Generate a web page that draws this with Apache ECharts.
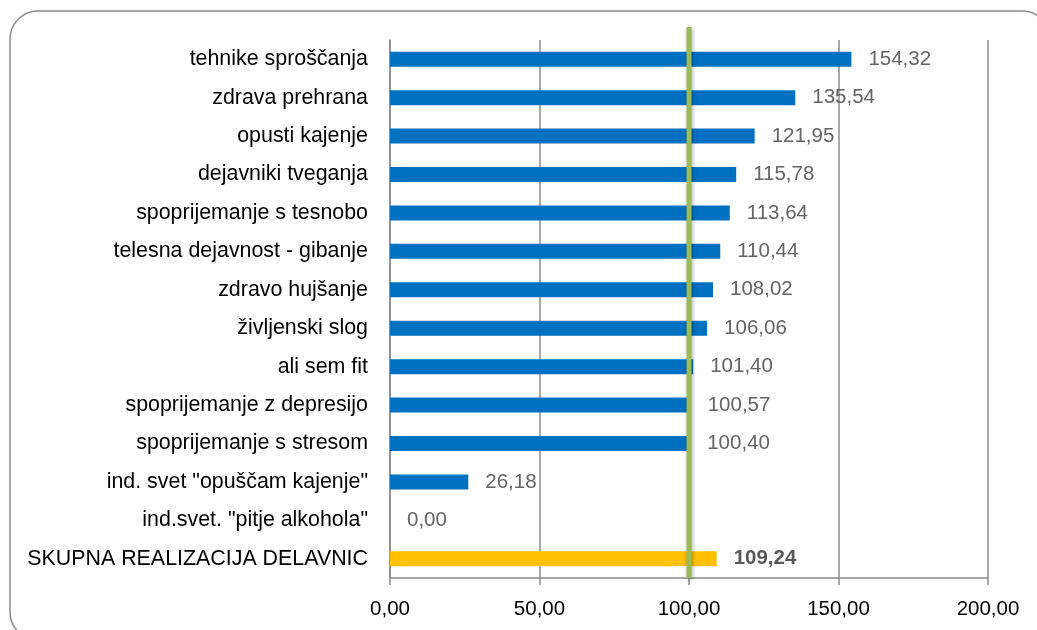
<!DOCTYPE html>
<html>
<head>
<meta charset="utf-8">
<script src="https://cdn.jsdelivr.net/npm/echarts@6/dist/echarts.min.js"></script>
<style>
html,body{margin:0;padding:0;background:#fff;}
#c{width:1037px;height:630px;}
</style>
</head>
<body>
<div id="c"></div>
<script>
const categories = [
  'tehnike sproščanja',
  'zdrava prehrana',
  'opusti kajenje',
  'dejavniki tveganja',
  'spoprijemanje s tesnobo',
  'telesna dejavnost - gibanje',
  'zdravo hujšanje',
  'življenski slog',
  'ali sem fit',
  'spoprijemanje z depresijo',
  'spoprijemanje s stresom',
  'ind. svet "opuščam kajenje"',
  'ind.svet. "pitje alkohola"',
  'SKUPNA REALIZACIJA DELAVNIC'
];
const values = [154.32, 135.54, 121.95, 115.78, 113.64, 110.44, 108.02, 106.06, 101.40, 100.57, 100.40, 26.18, 0.00, 109.24];
const totalIndex = 13;
const referenceValue = 100;
const xTicks = { min: 0, max: 200, interval: 50 };

const FONT = '"Liberation Sans", Arial, sans-serif';
const fmt = v => Number(v).toFixed(2).replace('.', ',');

const chart = echarts.init(document.getElementById('c'));
const seriesData = values.map((v, i) => {
  if (i === totalIndex) {
    return {
      value: v,
      itemStyle: { color: '#FFC000' },
      label: { fontWeight: 'bold', color: '#595959' }
    };
  }
  return { value: v };
});

const frame = {
  type: 'rect',
  shape: { x: 10, y: 11, width: 1040, height: 629, r: 28 },
  style: { fill: 'none', stroke: '#8c8c8c', lineWidth: 1.5 },
  silent: true,
  z: -1
};

chart.setOption({
  animation: false,
  grid: { left: 390, right: 49, top: 40, bottom: 52, containLabel: false },
  xAxis: {
    type: 'value',
    min: xTicks.min, max: xTicks.max, interval: xTicks.interval,
    axisLine: { show: true, lineStyle: { color: '#8c8c8c', width: 1.5 } },
    axisTick: { show: true, length: 7, lineStyle: { color: '#8c8c8c', width: 1.5 } },
    splitLine: { show: true, lineStyle: { color: '#8c8c8c', width: 1.5 } },
    axisLabel: { formatter: fmt, color: '#000', fontSize: 20.5, fontFamily: FONT, margin: 21 }
  },
  yAxis: {
    type: 'category',
    data: categories,
    inverse: true,
    axisLine: { show: true, lineStyle: { color: '#8c8c8c', width: 1.5 } },
    axisTick: { show: false },
    axisLabel: { color: '#000', fontSize: 21.4, fontFamily: FONT, margin: 22 }
  },
  series: [{
    type: 'bar',
    data: seriesData,
    barWidth: 15,
    itemStyle: { color: '#0070C0' },
    label: {
      show: true,
      position: 'right',
      distance: 17,
      formatter: p => fmt(p.value),
      color: '#646464',
      fontSize: 20.5,
      fontFamily: FONT
    }
  }],
  graphic: [frame]
});

const refX = chart.convertToPixel({ xAxisIndex: 0 }, referenceValue);
chart.setOption({
  graphic: [frame, {
    type: 'line',
    shape: { x1: refX, y1: 27, x2: refX, y2: 578 },
    style: { stroke: '#9BBB59', lineWidth: 5, shadowBlur: 4, shadowColor: 'rgba(0,0,0,0.35)', shadowOffsetX: 1, shadowOffsetY: 1 },
    silent: true,
    z: 100
  }]
});
</script>
</body>
</html>
